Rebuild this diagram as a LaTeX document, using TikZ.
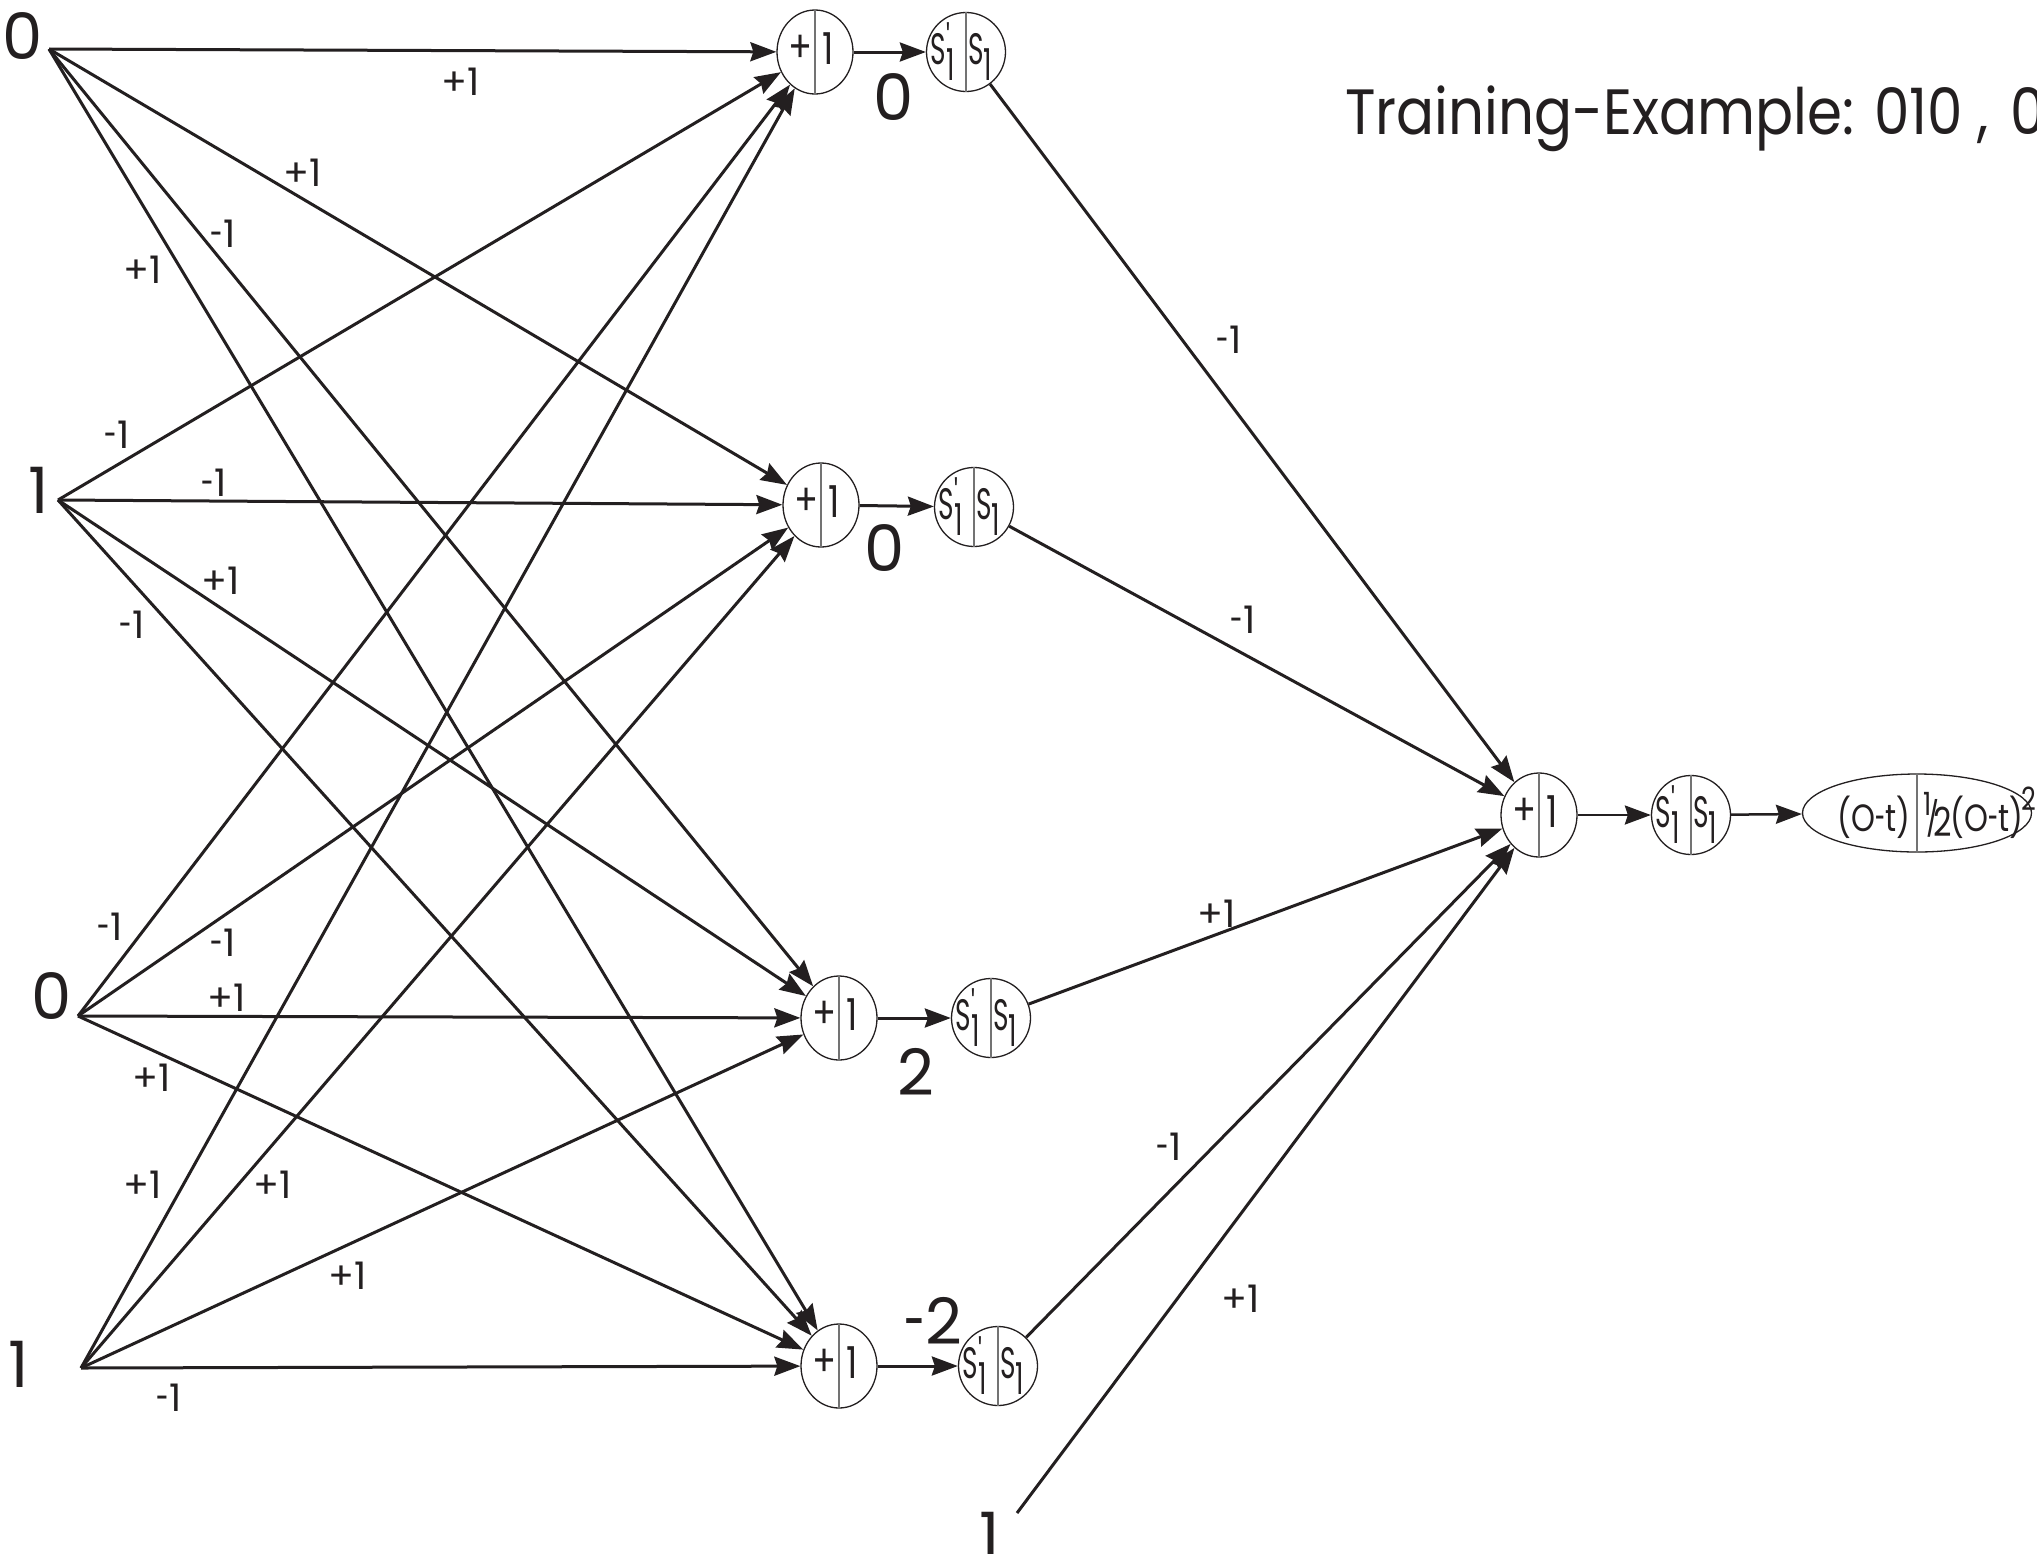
\documentclass[tikz,border=0pt]{standalone}
\usepackage{fontspec}
\setmainfont{Poppins}
\newfontfamily\titlefont{Poppins}[FakeStretch=0.88]
\newfontfamily\errfont{Poppins}[FakeStretch=0.8]
\newfontfamily\sumfont{Poppins}[FakeStretch=0.8]
\newfontfamily\sigfont{Poppins}[FakeStretch=0.6]
\usetikzlibrary{shapes.geometric,arrows.meta}
\definecolor{ink}{HTML}{231F20}
\newcommand\hy{\scalebox{0.6}[1]{-}}
\newcommand\subone{\raisebox{-16pt}{1}}
\newcommand\Sprime{S\rlap{\raisebox{10pt}{\fontsize{40}{40}\selectfont '}}\subone}
\newcommand\Splain{S\subone}
\newcommand\SumNode[2]{%
  \node[sumnode] (#1) at (#2) {};
  \draw[divider] (#1.north) -- (#1.south);
  \node[ntext] (#1p) at ([xshift=-14pt,yshift=3pt]#1.center) {+};
  \node[ntext] (#1o) at ([xshift=13pt,yshift=3pt]#1.center) {1};
}
\newcommand\SigNode[2]{%
  \node[signode] (#1) at (#2) {};
  \draw[divider] (#1.north) -- (#1.south);
  \node[stext,anchor=base east] (#1l) at ([xshift=-11pt,yshift=-12pt]#1.center) {\Sprime};
  \node[stext,anchor=base west] (#1r) at ([xshift=2pt,yshift=-12pt]#1.center) {\Splain};
}
\begin{document}
\begin{tikzpicture}[x=1pt,y=-1pt,
  every node/.style={text=ink},
  conn/.style={draw=ink,line width=3pt,-{Stealth[length=26pt,width=19pt,inset=3pt]}},
  sumnode/.style={ellipse,draw=ink,line width=1.3pt,minimum width=76pt,minimum height=84pt,inner sep=0pt},
  signode/.style={circle,draw=ink,line width=1.3pt,minimum size=79pt,inner sep=0pt},
  divider/.style={draw=black!55,line width=1.3pt},
  ntext/.style={font=\sumfont\fontsize{44}{44}\selectfont,inner sep=0pt},
  stext/.style={font=\sigfont\fontsize{44}{44}\selectfont,inner sep=0pt},
  etext/.style={font=\errfont\fontsize{38}{38}\selectfont,inner sep=0pt},
  wlabel/.style={font=\fontsize{38}{40}\selectfont,inner sep=0pt},
  biglabel/.style={font=\fontsize{64}{70}\selectfont,inner sep=0pt}]
\useasboundingbox (0,0) rectangle (2037,1553);
\fill[white] (0,0) rectangle (2037,1553);

% inputs
\node[biglabel] (l1) at (23,36) {0};
\node[biglabel] (l2) at (39,490) {1};
\node[biglabel] (l3) at (52,996) {0};
\node[biglabel] (l4) at (19,1364) {1};
\coordinate (i1) at (49,49);
\coordinate (i2) at (58,500);
\coordinate (i3) at (78,1016);
\coordinate (i4) at (81,1368);

% hidden nodes
\SumNode{h1}{815,52}
\SumNode{h2}{821,505}
\SumNode{h3}{839,1018}
\SumNode{h4}{839,1366}
\SigNode{s1}{966,52}
\SigNode{s2}{974,507}
\SigNode{s3}{991,1018}
\SigNode{s4}{998,1366}

% output nodes
\SumNode{o}{1539,815}
\SigNode{os}{1691,815}
\node[ellipse,draw=ink,line width=1.3pt,minimum width=229pt,minimum height=78pt,inner sep=0pt] (err) at (1917,813) {};
\draw[divider] (err.north) -- (err.south);
\node[etext,anchor=base] (errl) at (1874,831) {(O\hy t)};
\node[etext,anchor=base west] (errr) at (1923,831) {\raisebox{16pt}{\fontsize{32}{32}\selectfont 1}\kern-5pt{\fontsize{34}{34}\selectfont /}\kern-6pt\raisebox{-5pt}{\fontsize{40}{40}\selectfont 2}\kern-1pt(O\hy t)\kern-2pt\raisebox{21pt}{\fontsize{32}{32}\selectfont 2}};

% value labels
\node[biglabel] (v1) at (894,97) {0};
\node[biglabel] (v2) at (885,548) {0};
\node[biglabel] (v3) at (916,1072) {2};
\node[biglabel] (v4) at (933,1321) {\hy 2};
\node[biglabel] (bl) at (990,1535) {1};
\coordinate (b) at (1017,1513);

% title
\node[biglabel,font=\titlefont\fontsize{64}{70}\selectfont,anchor=base west] (title) at (1345,134) {Training-Example: 010\hspace{14pt},\hspace{22pt}0};

% input -> hidden
\draw[conn] (i1) -- (h1);
\draw[conn] (i1) -- (h2);
\draw[conn] (i1) -- (h3);
\draw[conn] (i1) -- (h4);
\draw[conn] (i2) -- (h1);
\draw[conn] (i2) -- (h2);
\draw[conn] (i2) -- (h3);
\draw[conn] (i2) -- (h4);
\draw[conn] (i3) -- (h1);
\draw[conn] (i3) -- (h2);
\draw[conn] (i3) -- (h3);
\draw[conn] (i3) -- (h4);
\draw[conn] (i4) -- (h1);
\draw[conn] (i4) -- (h2);
\draw[conn] (i4) -- (h3);
\draw[conn] (i4) -- (h4);

\node[wlabel] (w11) at (461,82) {+1};
\node[wlabel] (w12) at (303,173) {+1};
\node[wlabel] (w13) at (223,234) {\hy 1};
\node[wlabel] (w14) at (143,270) {+1};
\node[wlabel] (w21) at (117,435) {\hy 1};
\node[wlabel] (w22) at (214,483) {\hy 1};
\node[wlabel] (w23) at (221,581) {+1};
\node[wlabel] (w24) at (132,625) {\hy 1};
\node[wlabel] (w31) at (110,927) {\hy 1};
\node[wlabel] (w32) at (223,943) {\hy 1};
\node[wlabel] (w33) at (227,998) {+1};
\node[wlabel] (w34) at (152,1078) {+1};
\node[wlabel] (w41) at (143,1185) {+1};
\node[wlabel] (w42) at (273,1185) {+1};
\node[wlabel] (w43) at (348,1276) {+1};
\node[wlabel] (w44) at (169,1398) {\hy 1};

% hidden sum -> sigmoid
\draw[conn] (h1) -- (s1);
\draw[conn] (h2) -- (s2);
\draw[conn] (h3) -- (s3);
\draw[conn] (h4) -- (s4);

% hidden -> output
\draw[conn] (s1) -- (o);
\draw[conn] (s2) -- (o);
\draw[conn] (s3) -- (o);
\draw[conn] (s4) -- (o);
\draw[conn] (b) -- (o);
\node[wlabel] (u1) at (1229,340) {\hy 1};
\node[wlabel] (u2) at (1243,620) {\hy 1};
\node[wlabel] (u3) at (1217,914) {+1};
\node[wlabel] (u4) at (1169,1147) {\hy 1};
\node[wlabel] (u5) at (1241,1299) {+1};

\draw[conn,line width=2.5pt] (o) -- (os);
\draw[conn,line width=2.5pt] (os) -- (err);
\end{tikzpicture}
\end{document}
